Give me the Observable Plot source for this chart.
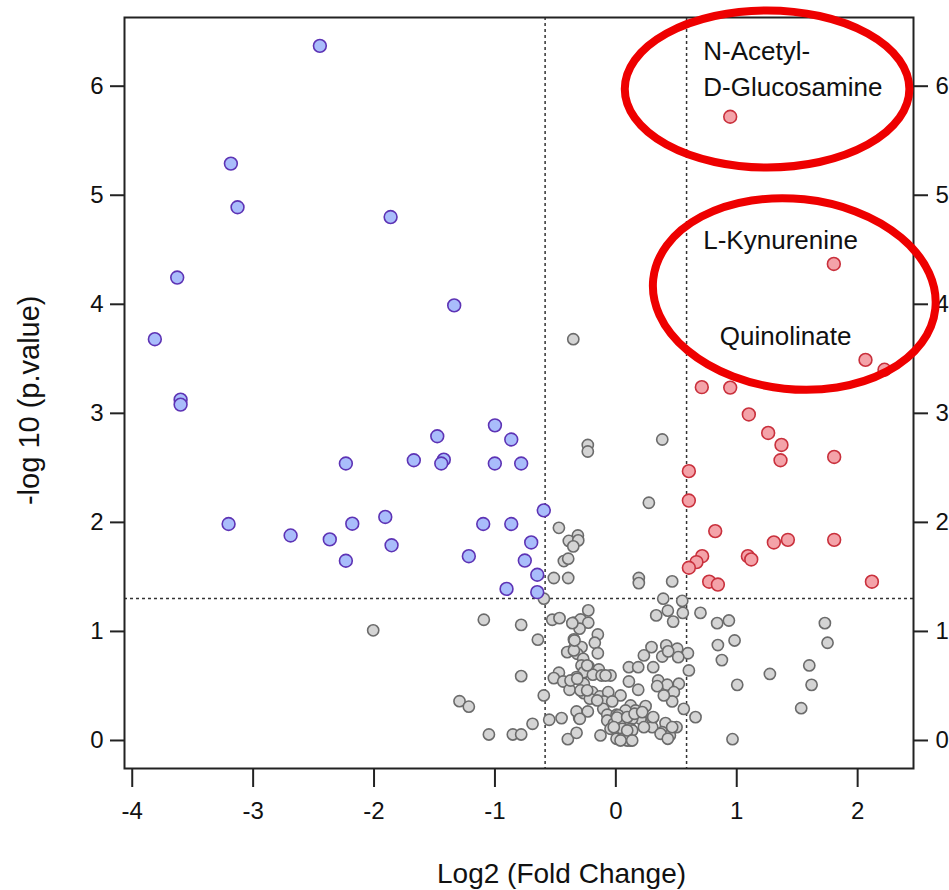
<!DOCTYPE html>
<html><head><meta charset="utf-8">
<script src="https://cdn.jsdelivr.net/npm/d3@7"></script>
<script src="https://cdn.jsdelivr.net/npm/@observablehq/plot@0.6"></script>
<style>
html,body{margin:0;padding:0;background:#fff;overflow:hidden;}
#chart svg{display:block;}
</style></head><body><div id="chart"></div>
<script>
const xTicks = [-4, -3, -2, -1, 0, 1, 2];
const yTicks = [0, 1, 2, 3, 4, 5, 6];
const foldThreshold = [-0.585, 0.585];
const pThreshold = [1.301];

// down-regulated (blue)
const downPoints = [
  [-2.448, 6.37], [-3.184, 5.29], [-3.129, 4.89], [-1.863, 4.80], [-3.628, 4.245],
  [-1.337, 3.99], [-3.813, 3.68], [-3.600, 3.125], [-3.600, 3.08], [-1.477, 2.79],
  [-2.233, 2.54], [-1.671, 2.57], [-1.423, 2.575], [-1.444, 2.54], [-3.203, 1.985],
  [-2.69, 1.88], [-2.366, 1.844], [-2.180, 1.988], [-2.233, 1.648], [-1.907, 2.05],
  [-1.855, 1.79], [-1.216, 1.69], [-1.097, 1.985], [-1.001, 2.54], [-0.783, 2.54],
  [-0.596, 2.11], [-0.865, 1.985], [-0.700, 1.816], [-0.753, 1.65], [-0.650, 1.52],
  [-0.904, 1.39], [-0.650, 1.36], [-1.0, 2.89], [-0.865, 2.76]
];

// up-regulated (red)
const upPoints = [
  [0.946, 5.72], [1.803, 4.37], [2.065, 3.49], [2.222, 3.40], [0.711, 3.24],
  [0.946, 3.236], [1.10, 2.99], [1.26, 2.82], [1.37, 2.71], [1.362, 2.57],
  [1.806, 2.60], [0.604, 2.47], [0.604, 2.20], [0.822, 1.92], [1.307, 1.816],
  [1.423, 1.84], [1.806, 1.84], [1.092, 1.69], [1.12, 1.66], [0.714, 1.69],
  [0.667, 1.636], [0.604, 1.584], [0.772, 1.456], [0.844, 1.43], [2.118, 1.456]
];

// not significant (grey)
const nsPoints = [
  [-0.352, 3.68], [0.384, 2.76], [-0.232, 2.71], [-0.232, 2.65], [0.273, 2.18],
  [-0.471, 1.95], [-0.314, 1.88], [-0.389, 1.83], [-0.311, 1.835], [-0.352, 1.78],
  [-0.43, 1.645], [-0.394, 1.667], [-0.513, 1.49], [-0.394, 1.49], [0.19, 1.49],
  [0.19, 1.443], [0.466, 1.459], [-0.595, 1.30], [0.392, 1.30], [0.549, 1.28],
  [-2.007, 1.01], [-1.293, 0.36], [-1.216, 0.31], [-1.092, 1.107], [-0.783, 1.06],
  [-0.645, 0.924], [-0.783, 0.59], [-0.596, 0.413], [-0.689, 0.153], [-1.05, 0.055],
  [-0.852, 0.055], [-0.783, 0.055], [-0.551, 0.19], [-0.449, 0.205], [-0.397, 0.012],
  [-0.325, 0.07], [-0.303, 0.205], [-0.325, 0.266], [-0.232, 0.266], [-0.127, 0.046],
  [0.554, 1.17], [0.700, 1.17], [0.334, 1.147], [0.43, 1.19], [0.474, 1.09],
  [0.838, 1.076], [0.935, 1.10], [0.982, 0.917], [0.844, 0.875], [0.877, 0.737],
  [1.004, 0.51], [1.274, 0.61], [1.6, 0.688], [1.619, 0.51], [1.533, 0.296],
  [1.729, 1.076], [1.751, 0.896], [0.965, 0.012], [0.659, 0.214], [0.562, 0.29],
  [0.604, 0.642], [0.596, 0.80],
  [-0.228, 1.193], [-0.526, 1.107], [-0.466, 1.122], [-0.347, 1.08], [-0.292, 1.11],
  [-0.228, 1.08], [-0.300, 1.025], [-0.149, 0.972], [-0.347, 0.927], [-0.174, 0.896],
  [-0.347, 0.841], [-0.284, 0.856], [-0.402, 0.81], [-0.319, 0.795], [-0.149, 0.80],
  [-0.27, 0.749], [-0.284, 0.688], [-0.228, 0.682], [-0.265, 0.627], [-0.141, 0.651],
  [-0.190, 0.603], [-0.118, 0.596], [-0.044, 0.596], [-0.471, 0.621], [-0.513, 0.572],
  [-0.435, 0.541], [-0.325, 0.581], [-0.383, 0.465], [-0.265, 0.52], [-0.265, 0.434],
  [-0.195, 0.443], [-0.132, 0.404], [-0.063, 0.443], [0.039, 0.413], [-0.215, 0.383],
  [-0.099, 0.358], [-0.030, 0.358], [-0.104, 0.29], [-0.298, 0.199], [-0.071, 0.236],
  [0.006, 0.236], [-0.071, 0.183], [-0.017, 0.153], [0.039, 0.138], [-0.044, 0.107],
  [0.02, 0.076], [0.006, 0.016],
  [0.295, 0.856], [0.417, 0.872], [0.508, 0.841], [0.232, 0.78], [0.384, 0.77],
  [0.433, 0.817], [0.516, 0.764], [0.108, 0.672], [0.185, 0.672], [0.309, 0.672],
  [0.108, 0.541], [0.185, 0.465], [0.35, 0.55], [0.425, 0.511], [0.521, 0.52],
  [0.342, 0.498], [0.48, 0.443], [0.466, 0.358], [0.246, 0.315], [0.122, 0.321],
  [0.163, 0.275], [0.08, 0.275], [0.301, 0.199], [0.204, 0.199], [0.135, 0.199],
  [0.02, 0.23], [0.411, 0.159], [0.502, 0.122], [0.384, 0.076], [0.447, 0.046],
  [0.301, 0.122], [0.232, 0.122], [0.122, 0.107], [0.053, 0.107], [0.053, 0.016],
  [0.122, 0.0], [0.094, 0.0], [0.397, 0.413],
  [0.01, 0.21], [0.094, 0.214], [0.155, 0.245], [0.218, 0.26], [0.309, 0.214],
  [0.135, 0.092], [0.094, 0.092], [-0.017, 0.122], [0.37, 0.061], [0.43, 0.016],
  [0.466, 0.122], [-0.292, 0.459], [-0.237, 0.459], [-0.154, 0.367], [-0.375, 0.55],
  [-0.319, 0.566], [-0.085, 0.596], [-0.237, 0.688], [-0.347, 0.826], [-0.342, 0.917],
  [-0.36, 1.076], [0.135, 0.0], [0.039, 0.0]
];

const labelText = ["N-Acetyl-", "D-Glucosamine", "L-Kynurenine", "Quinolinate"];
const labelX = [0.723, 0.723, 0.723, 0.86];
const labelY = [6.243, 5.908, 4.511, 3.624];

const xTitle = "Log2 (Fold Change)";
const xTitleAt = -0.449;
const yTitle = "-log 10 (p.value)";
const yTitleAt = 3.12;

// red highlight ellipses (data units)
const ellipseCx = [1.255, 1.48];
const ellipseCy = [5.97, 4.09];
const ellipseRx = [1.177, 1.173];
const ellipseRy = [0.72, 0.873];
const ellipseTilt = [0, 6];

const font = "'Liberation Sans', Arial, Helvetica, sans-serif";

const plot = Plot.plot({
  width: 949,
  height: 890,
  marginTop: 17,
  marginLeft: 124,
  marginRight: 36,
  marginBottom: 122,
  x: {domain: [-4.064, 2.462]},
  y: {domain: [-0.257, 6.63]},
  style: {fontFamily: font, background: "#fff", overflow: "visible", color: "#111"},
  marks: [
    Plot.ruleX(foldThreshold, {stroke: "#333", strokeWidth: 1.5, strokeDasharray: "3,3"}),
    Plot.ruleY(pThreshold, {stroke: "#333", strokeWidth: 1.5, strokeDasharray: "3,3"}),
    Plot.dot(nsPoints, {x: d => d[0], y: d => d[1], r: 5.6, fill: "#d4d4d4", stroke: "#6b6b6b", strokeWidth: 1.6}),
    Plot.dot(downPoints, {x: d => d[0], y: d => d[1], r: 6.4, fill: "#a9bdfb", stroke: "#5d33b5", strokeWidth: 1.6}),
    Plot.dot(upPoints, {x: d => d[0], y: d => d[1], r: 6.4, fill: "#f4a3a9", stroke: "#c9303c", strokeWidth: 1.6}),
    Plot.frame({stroke: "#222", strokeWidth: 2}),
    Plot.axisX(xTicks, {anchor: "bottom", tickSize: 19, tickPadding: 14, fontSize: 24, stroke: "#222", strokeWidth: 2, fill: "#111", label: null, tickFormat: d => String(d)}),
    Plot.axisY(yTicks, {anchor: "left", tickSize: 14, tickPadding: 7, fontSize: 24, stroke: "#222", strokeWidth: 2, fill: "#111", label: null, tickFormat: d => String(d)}),
    Plot.axisY(yTicks, {anchor: "right", tickSize: 14, tickPadding: 8, fontSize: 24, stroke: "#222", strokeWidth: 2, fill: "#111", label: null, tickFormat: d => String(d)}),
    Plot.text(labelText, {x: (d, i) => labelX[i], y: (d, i) => labelY[i], text: d => d, textAnchor: "start", lineAnchor: "bottom", fontSize: 26, fill: "#111"}),
    Plot.text([xTitle], {x: () => xTitleAt, frameAnchor: "bottom", dy: 114, text: d => d, lineAnchor: "bottom", textAnchor: "middle", fontSize: 28, fill: "#111"}),
    Plot.text([yTitle], {y: () => yTitleAt, frameAnchor: "left", dx: -86, rotate: -90, text: d => d, lineAnchor: "bottom", textAnchor: "middle", fontSize: 29, fill: "#111"})
  ]
});

document.getElementById("chart").appendChild(plot);

const sx = plot.scale("x"), sy = plot.scale("y");
const g = d3.select(plot).append("g").attr("class", "highlights");
ellipseCx.forEach((cx, i) => {
  const px = sx.apply(cx), py = sy.apply(ellipseCy[i]);
  const rx = Math.abs(sx.apply(cx + ellipseRx[i]) - px);
  const ry = Math.abs(sy.apply(ellipseCy[i] + ellipseRy[i]) - py);
  g.append("ellipse")
    .attr("cx", px).attr("cy", py).attr("rx", rx).attr("ry", ry)
    .attr("transform", `rotate(${ellipseTilt[i]} ${px} ${py})`)
    .attr("fill", "none").attr("stroke", "#ee0000").attr("stroke-width", 8);
});
</script></body></html>
